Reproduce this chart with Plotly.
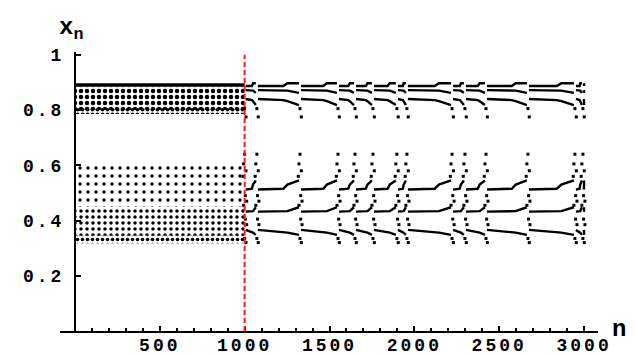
import plotly.graph_objects as go

# ---------------- data ----------------
x_tick_vals = [500, 1000, 1500, 2000, 2500, 3000]
x_tick_text = ["500", "1000", "1500", "2000", "2500", "3000"]
y_tick_vals = [0.2, 0.4, 0.6, 0.8, 1.0]
y_tick_text = ["0.2", "0.4", "0.6", "0.8", "1"]

switch_n = 1000     # red dashed marker
n_last = 3000

# chaotic regime (n = 0 .. 1000): bands filled with points
chaos_band_low = [0.884, 0.800, 0.786, 0.450, 0.345, 0.318]
chaos_band_high = [0.897, 0.884, 0.806, 0.603, 0.450, 0.345]
chaos_band_size = [3, 6, 5, 8, 6, 5]
chaos_band_solidity = [1.0, 0.45, 0.50, 0.13, 0.27, 0.42]

# laminar regime: n where bursts interrupt the plateaus
burst_n = [1000, 1072, 1326, 1550, 1650, 1756, 1897, 1956, 2222, 2298,
           2422, 2669, 2946, 2993]

# shape of each plateau (fraction of plateau length, level)
knot_frac = [0.0, 0.62, 0.72, 1.0]
branch_a = [0.887, 0.887, 0.897, 0.897]
branch_b = [0.872, 0.872, 0.870, 0.862]
branch_c = [0.840, 0.836, 0.832, 0.818]
branch_d = [0.512, 0.515, 0.530, 0.545]
branch_e = [0.432, 0.432, 0.434, 0.448]
branch_f = [0.366, 0.357, 0.356, 0.348]

# scattered points during each burst (level, n shift)
burst_dot_level = [0.805, 0.775, 0.640, 0.605, 0.580, 0.560, 0.490,
                   0.470, 0.455, 0.405, 0.385, 0.335, 0.320]
burst_dot_shift = [0, 8, 0, -6, 8, -10, 4, 12, -6, 4, 12, 0, 8]

# ---------------- figure ----------------
fig = go.Figure()

for lo, hi, sz, sol in zip(chaos_band_low, chaos_band_high,
                           chaos_band_size, chaos_band_solidity):
    xs = [0, switch_n, switch_n, 0, 0]
    ys = [lo, lo, hi, hi, lo]
    if sol >= 1.0:
        fig.add_trace(go.Scatter(x=xs, y=ys, mode="lines", fill="toself",
                                 fillcolor="black", line=dict(width=0),
                                 hoverinfo="skip"))
    else:
        fig.add_trace(go.Scatter(
            x=xs, y=ys, mode="lines", fill="toself", line=dict(width=0),
            fillcolor="rgba(0,0,0,0)",
            fillpattern=dict(shape=".", size=sz, solidity=sol,
                             fgcolor="black", fgopacity=1,
                             bgcolor="rgba(0,0,0,0)"),
            hoverinfo="skip"))

starts = burst_n
ends = burst_n[1:] + [n_last]
gap = 6
for branch in [branch_a, branch_b, branch_c, branch_d, branch_e, branch_f]:
    bx, by = [], []
    for s, e in zip(starts, ends):
        a0 = s + gap
        a1 = e - gap if e < n_last else e
        for f, lv in zip(knot_frac, branch):
            bx.append(a0 + f * (a1 - a0))
            by.append(lv)
        bx.append(None)
        by.append(None)
    fig.add_trace(go.Scatter(x=bx, y=by, mode="lines",
                             line=dict(color="black", width=2.4),
                             hoverinfo="skip"))

dx, dy = [], []
for b in burst_n:
    for lv, sh in zip(burst_dot_level, burst_dot_shift):
        dx.append(b + sh)
        dy.append(lv)
fig.add_trace(go.Scatter(x=dx, y=dy, mode="markers",
                         marker=dict(symbol="square", size=3, color="black",
                                     line=dict(width=0)),
                         hoverinfo="skip"))

fig.add_shape(type="line", x0=switch_n, x1=switch_n, y0=0, y1=1.0,
              xref="x", yref="y",
              line=dict(color="#ff1a1a", width=2, dash="5px,3px"))

# page body has an 8px margin: the figure is shrunk and shifted accordingly
OFF = 8
W, H = 635 - OFF, 355 - OFF
L, T = 60 - OFF, 52 - OFF
R = W - (598 - OFF)
B = H - (331 - OFF)
pw = W - L - R
ph = H - T - B


def span(t):
    return '<span style="letter-spacing:3px">' + t + '</span>'


def px_x(p):
    return (p - OFF - L) / pw


def px_y(p):
    return (H - B - (p - OFF)) / ph


tick_font = dict(family="Liberation Mono", size=18, color="black",
                 weight="bold")
fig.update_layout(
    width=W, height=H,
    margin=dict(l=L, r=R, t=T, b=B, autoexpand=False),
    plot_bgcolor="white", paper_bgcolor="white",
    showlegend=False,
)
fig.update_xaxes(
    range=[-88, 3082], showgrid=False, zeroline=False, automargin=False,
    showline=True, linecolor="black", linewidth=2,
    ticks="inside", ticklen=5, tickwidth=2, tickcolor="black",
    tickmode="array", tickvals=x_tick_vals,
    ticktext=[span(t) for t in x_tick_text], tickfont=tick_font,
    ticklabelstandoff=-4,
    minor=dict(tickmode="linear", tick0=0, dtick=100, ticks="inside",
               ticklen=3, tickwidth=1.5, tickcolor="black"),
)
fig.update_yaxes(
    range=[0, 1.01], anchor="free", position=15 / pw, automargin=False,
    showgrid=False, zeroline=False,
    showline=True, linecolor="black", linewidth=2,
    ticks="inside", ticklen=5, tickwidth=2, tickcolor="black",
    tickmode="array", tickvals=y_tick_vals,
    ticktext=[span(t) for t in y_tick_text], tickfont=tick_font,
    ticklabelstandoff=6,
)

ann_font = dict(family="Liberation Mono", size=24, color="black",
                weight="bold")
fig.add_annotation(text="x<sub>n</sub>", xref="paper", yref="paper",
                   x=px_x(57), y=px_y(29), xanchor="left", yanchor="middle",
                   showarrow=False, font=ann_font)
fig.add_annotation(text="n", xref="paper", yref="paper",
                   x=px_x(610), y=px_y(329), xanchor="left", yanchor="middle",
                   showarrow=False, font=ann_font)

fig.write_html("out.html")
